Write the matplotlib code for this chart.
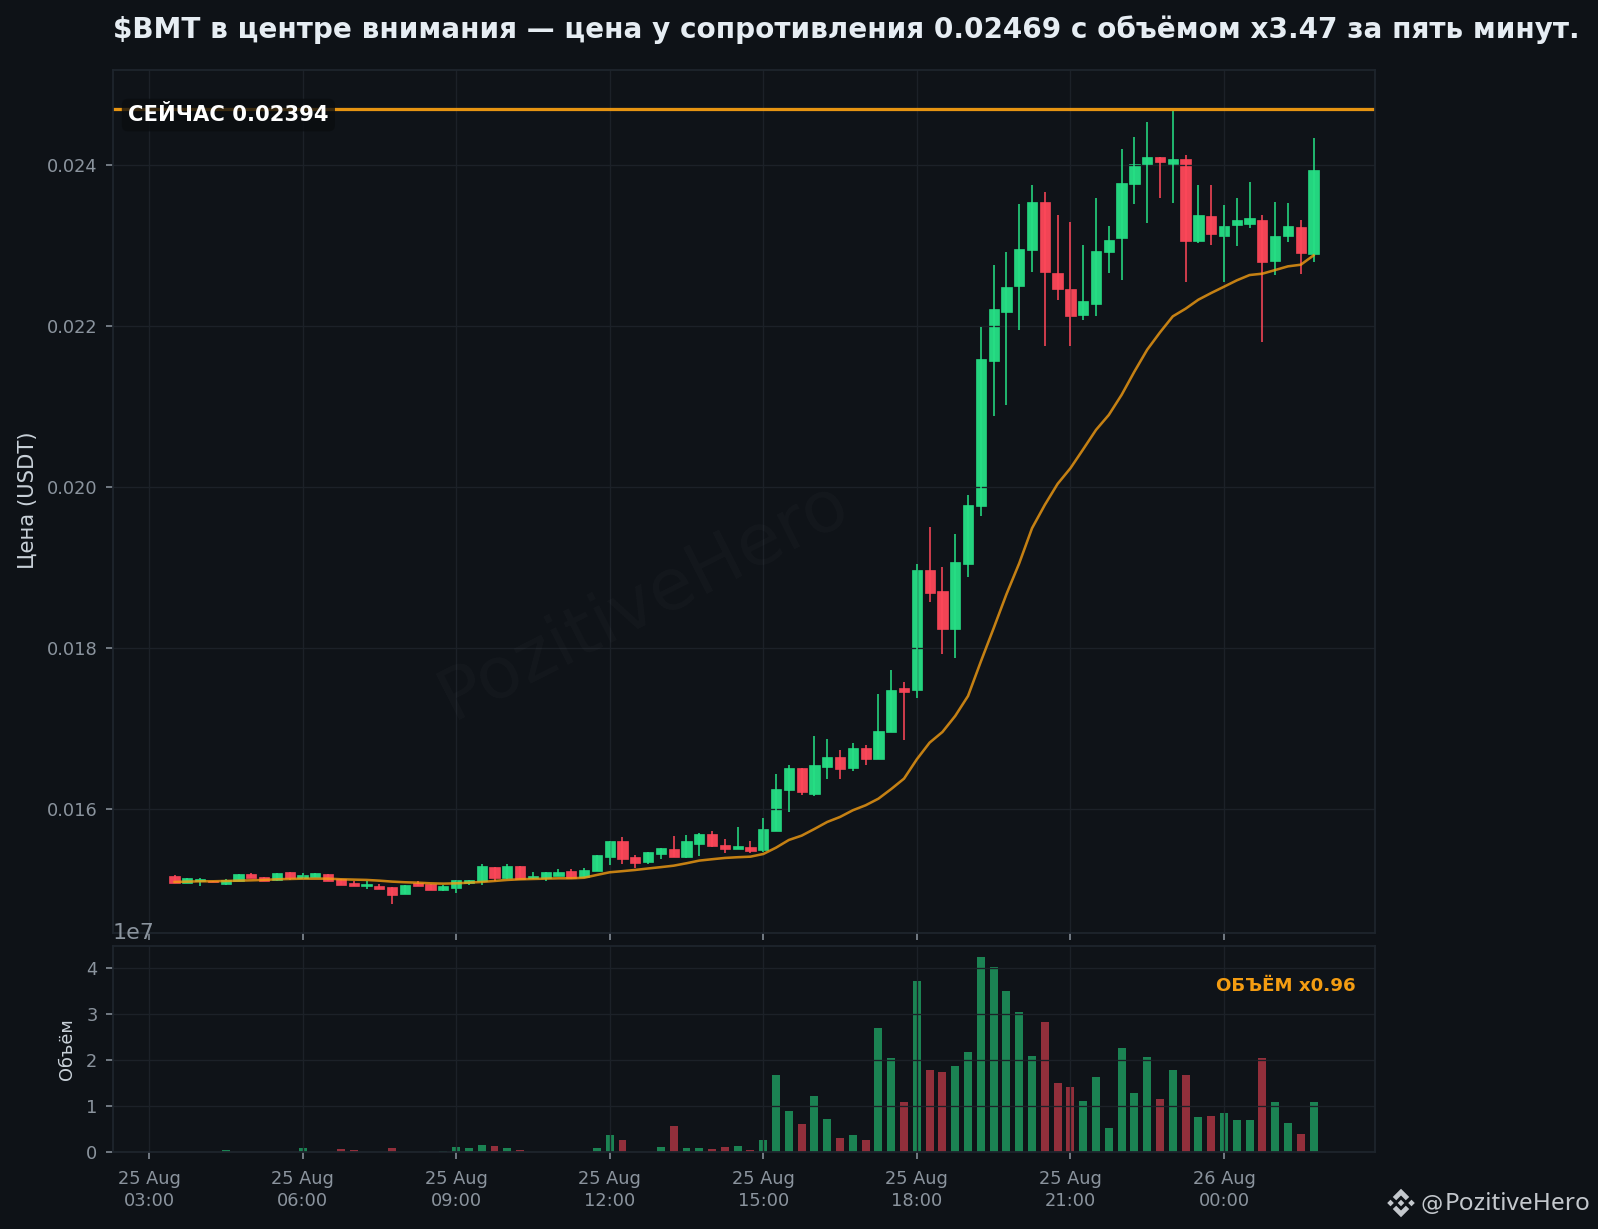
import numpy as np
import pandas as pd
import matplotlib
matplotlib.use('Agg')
import matplotlib.pyplot as plt
import matplotlib.dates as mdates
from matplotlib.patches import Polygon

# 15 minute candles, 25 Aug 03:30 -> 26 Aug 01:45
opens = [
    0.015172, 0.015089, 0.015106, 0.015114, 0.015077, 0.015110, 0.015193, 0.015156, 0.015123, 0.015218,
    0.015152, 0.015164, 0.015193, 0.015139, 0.015081, 0.015052, 0.015044, 0.015031, 0.014953, 0.015081,
    0.015073, 0.015002, 0.015027, 0.015081, 0.015106, 0.015280, 0.015152, 0.015292, 0.015147, 0.015147,
    0.015176, 0.015230, 0.015160, 0.015238, 0.015404, 0.015603, 0.015404, 0.015350, 0.015450, 0.015503,
    0.015412, 0.015574, 0.015690, 0.015553, 0.015512, 0.015528, 0.015495, 0.015735, 0.016236, 0.016509,
    0.016195, 0.016530, 0.016646, 0.016517, 0.016757, 0.016629, 0.016964, 0.017502, 0.017487, 0.018969,
    0.018708, 0.018236, 0.019051, 0.019771, 0.021572, 0.022180, 0.022493, 0.022940, 0.023541, 0.022659,
    0.022460, 0.022133, 0.022270, 0.022916, 0.023089, 0.023760, 0.024000, 0.024099, 0.024008, 0.024075,
    0.023052, 0.023367, 0.023114, 0.023251, 0.023263, 0.023317, 0.022804, 0.023114, 0.023230, 0.022891,
]
highs = [
    0.015185, 0.015143, 0.015143, 0.015114, 0.015135, 0.015193, 0.015209, 0.015156, 0.015205, 0.015218,
    0.015209, 0.015205, 0.015193, 0.015139, 0.015110, 0.015110, 0.015073, 0.015031, 0.015056, 0.015106,
    0.015073, 0.015056, 0.015123, 0.015118, 0.015321, 0.015280, 0.015321, 0.015292, 0.015222, 0.015218,
    0.015259, 0.015259, 0.015272, 0.015429, 0.015603, 0.015652, 0.015429, 0.015466, 0.015516, 0.015665,
    0.015677, 0.015702, 0.015727, 0.015627, 0.015776, 0.015603, 0.015888, 0.016435, 0.016546, 0.016509,
    0.016906, 0.016869, 0.016733, 0.016820, 0.016795, 0.017428, 0.017726, 0.017577, 0.019047, 0.019507,
    0.019010, 0.019420, 0.019904, 0.021990, 0.022760, 0.022920, 0.023516, 0.023756, 0.023669, 0.023379,
    0.023296, 0.023011, 0.023594, 0.023247, 0.024199, 0.024352, 0.024538, 0.024099, 0.024675, 0.024128,
    0.023756, 0.023756, 0.023503, 0.023594, 0.023793, 0.023379, 0.023545, 0.023532, 0.023321, 0.024339,
]
lows = [
    0.015089, 0.015081, 0.015048, 0.015098, 0.015060, 0.015106, 0.015152, 0.015106, 0.015110, 0.015127,
    0.015143, 0.015164, 0.015114, 0.015065, 0.015052, 0.015015, 0.015015, 0.014825, 0.014953, 0.015048,
    0.015002, 0.014990, 0.014961, 0.015060, 0.015060, 0.015110, 0.015131, 0.015135, 0.015131, 0.015110,
    0.015172, 0.015135, 0.015160, 0.015238, 0.015313, 0.015325, 0.015276, 0.015325, 0.015383, 0.015412,
    0.015400, 0.015425, 0.015536, 0.015462, 0.015512, 0.015462, 0.015474, 0.015735, 0.015971, 0.016182,
    0.016170, 0.016381, 0.016381, 0.016480, 0.016555, 0.016629, 0.016964, 0.016865, 0.017387, 0.018575,
    0.017930, 0.017880, 0.018890, 0.019643, 0.020889, 0.021026, 0.021953, 0.022676, 0.021757, 0.022328,
    0.021757, 0.022080, 0.022129, 0.022663, 0.022576, 0.023520, 0.023284, 0.023594, 0.023532, 0.022551,
    0.023036, 0.023011, 0.022551, 0.022998, 0.023222, 0.021806, 0.022638, 0.023048, 0.022651, 0.022800,
]
closes = [
    0.015089, 0.015143, 0.015131, 0.015098, 0.015123, 0.015193, 0.015152, 0.015106, 0.015205, 0.015152,
    0.015180, 0.015205, 0.015114, 0.015065, 0.015052, 0.015069, 0.015015, 0.014940, 0.015056, 0.015052,
    0.015002, 0.015044, 0.015118, 0.015118, 0.015292, 0.015152, 0.015292, 0.015135, 0.015172, 0.015218,
    0.015218, 0.015147, 0.015243, 0.015429, 0.015603, 0.015387, 0.015338, 0.015466, 0.015516, 0.015412,
    0.015603, 0.015690, 0.015549, 0.015512, 0.015541, 0.015487, 0.015752, 0.016248, 0.016509, 0.016219,
    0.016546, 0.016646, 0.016505, 0.016757, 0.016621, 0.016969, 0.017478, 0.017461, 0.018969, 0.018691,
    0.018244, 0.019068, 0.019776, 0.021589, 0.022209, 0.022483, 0.022957, 0.023541, 0.022667, 0.022456,
    0.022121, 0.022311, 0.022932, 0.023069, 0.023776, 0.024012, 0.024099, 0.024033, 0.024075, 0.023052,
    0.023379, 0.023139, 0.023243, 0.023317, 0.023342, 0.022791, 0.023118, 0.023243, 0.022903, 0.023940,
]
ema = [
    0.015098, 0.015102, 0.015106, 0.015106, 0.015110, 0.015114, 0.015118, 0.015123, 0.015131, 0.015135,
    0.015139, 0.015139, 0.015139, 0.015131, 0.015127, 0.015123, 0.015114, 0.015102, 0.015094, 0.015089,
    0.015081, 0.015077, 0.015081, 0.015089, 0.015098, 0.015110, 0.015123, 0.015131, 0.015135, 0.015139,
    0.015143, 0.015143, 0.015150, 0.015185, 0.015218, 0.015232, 0.015247, 0.015265, 0.015282, 0.015300,
    0.015330, 0.015363, 0.015380, 0.015396, 0.015405, 0.015412, 0.015445, 0.015524, 0.015619, 0.015673,
    0.015756, 0.015843, 0.015905, 0.015988, 0.016050, 0.016132, 0.016252, 0.016381, 0.016621, 0.016828,
    0.016960, 0.017159, 0.017407, 0.017834, 0.018248, 0.018670, 0.019055, 0.019490, 0.019780, 0.020041,
    0.020235, 0.020471, 0.020711, 0.020897, 0.021146, 0.021435, 0.021707, 0.021922, 0.022121, 0.022216,
    0.022328, 0.022411, 0.022489, 0.022568, 0.022634, 0.022651, 0.022696, 0.022742, 0.022762, 0.022878,
]
# volume in units of 1e7
volume = [
    0.005, 0.005, 0.005, 0.005, 0.04, 0.005, 0.005, 0.005, 0.005, 0.005,
    0.08, 0.005, 0.005, 0.06, 0.04, 0.005, 0.005, 0.08, 0.005, 0.005,
    0.005, 0.03, 0.10, 0.08, 0.15, 0.12, 0.08, 0.04, 0.005, 0.005,
    0.005, 0.005, 0.005, 0.08, 0.36, 0.25, 0.005, 0.005, 0.10, 0.56,
    0.08, 0.08, 0.06, 0.10, 0.12, 0.04, 0.27, 1.68, 0.90, 0.60,
    1.21, 0.71, 0.30, 0.36, 0.25, 2.68, 2.03, 1.08, 3.70, 1.79,
    1.73, 1.86, 2.16, 4.24, 4.02, 3.50, 3.03, 2.09, 2.83, 1.49,
    1.42, 1.10, 1.62, 0.51, 2.25, 1.29, 2.07, 1.14, 1.77, 1.68,
    0.75, 0.79, 0.84, 0.69, 0.69, 2.03, 1.08, 0.64, 0.40, 1.08,
]
resistance = 0.02469
y_ticks = [0.016, 0.018, 0.020, 0.022, 0.024]

BG = '#0e1217'
PANEL = '#0f1318'
GRID = '#1c2128'
SPINE = '#1e252d'
TICK = '#8b949e'
GREEN = '#26e085'
RED = '#ff4759'
ORANGE = '#f39c12'

W, H = 1598, 1229
fig = plt.figure(figsize=(W / 160, H / 160), dpi=160, facecolor=BG)
plt.rcParams['font.family'] = 'DejaVu Sans'


def px_axes(left, top, right, bottom, **kw):
    return fig.add_axes([left / W, 1 - bottom / H, (right - left) / W, (bottom - top) / H], **kw)


ax = px_axes(113, 70, 1375, 933)
ax_vol = px_axes(113, 946, 1375, 1152, sharex=ax)

times = pd.date_range('2025-08-25 03:30', periods=len(opens), freq='15min')
x = mdates.date2num(times)
step = 15 / 1440

o = np.array(opens)
c = np.array(closes)
up = c >= o
colors = [GREEN if u else RED for u in up]

ax.vlines(x, lows, highs, colors=colors, lw=0.7)
ax.bar(x, np.abs(c - o), bottom=np.minimum(o, c), width=step * 0.8, color=colors,
       edgecolor=colors, linewidth=0.3, alpha=0.95)
ax.plot(x, ema, color=ORANGE, lw=1.15, alpha=0.8)
ax.axhline(resistance, color=ORANGE, lw=1.45, alpha=0.95)

ax_vol.bar(x, np.array(volume) * 1e7, width=step * 0.62, color=colors, alpha=0.55)

start = mdates.date2num(pd.Timestamp('2025-08-25 03:00'))
ax.set_xlim(start - 2.81 * step, start + 95.8 * step)
ax.set_ylim(0.014464, 0.02518)
ax.set_yticks(y_ticks)
ax_vol.set_ylim(0, 4.47e7)
ax_vol.set_yticks([0, 1e7, 2e7, 3e7, 4e7])

ax_vol.xaxis.set_major_locator(mdates.HourLocator(byhour=range(0, 24, 3)))
ax_vol.xaxis.set_major_formatter(mdates.DateFormatter('%d %b\n%H:%M'))

for a in (ax, ax_vol):
    a.set_facecolor(PANEL)
    a.grid(True, color=GRID, lw=0.6)
    a.tick_params(colors=TICK, labelsize=8, length=3, width=0.7, pad=4)
    for s in a.spines.values():
        s.set_color(SPINE)
        s.set_linewidth(0.8)
ax.tick_params(axis='x', labelbottom=False)
ax_vol.tick_params(axis='x', pad=5)
fig.canvas.draw()
for lab in ax_vol.get_xticklabels():
    lab.set_linespacing(1.3)
ax_vol.yaxis.get_offset_text().set_color(TICK)
ax_vol.yaxis.get_offset_text().set_fontsize(10)

ax.set_ylabel('Цена (USDT)', color='#c9d1d9', fontsize=9.5)
ax.yaxis.set_label_coords((38 - 113) / 1262, (933 - 500) / 863)
ax_vol.set_ylabel('Объём', color='#c9d1d9', fontsize=8)
ax_vol.yaxis.set_label_coords((76 - 113) / 1262, (1152 - 1049) / 206)

ax.text(0.012, 0.9478, 'СЕЙЧАС 0.02394', transform=ax.transAxes, color='white', fontsize=9.5,
        fontweight='bold', va='center', ha='left', zorder=6,
        bbox=dict(boxstyle='round,pad=0.3', facecolor='#0a0d10', edgecolor='none', alpha=0.78))
ax_vol.text(0.9845, 0.805, 'ОБЪЁМ x0.96', transform=ax_vol.transAxes, color=ORANGE, fontsize=8.2,
            fontweight='bold', va='center', ha='right')

# watermark
fig.text(644 / W, 1 - 601 / H, 'PozitiveHero', color='white', alpha=0.025, fontsize=32.5,
         rotation=27, ha='center', va='center')

fig.text(113 / W, 1 - 29.5 / H,
         '$BMT в центре внимания — цена у сопротивления 0.02469 с объёмом x3.47 за пять минут.',
         color='#e6edf3', fontsize=12.56, fontweight='bold', ha='left', va='center', parse_math=False)

# brand mark bottom right
ax_logo = px_axes(1386, 1188, 1416, 1218)
ax_logo.set_xlim(-1, 1)
ax_logo.set_ylim(-1, 1)
ax_logo.axis('off')
logo = '#c4c8cd'
for pts in (
    [(0, 0.22), (0.22, 0), (0, -0.22), (-0.22, 0)],
    [(-0.92, 0), (-0.7, 0.22), (-0.48, 0), (-0.7, -0.22)],
    [(0.92, 0), (0.7, 0.22), (0.48, 0), (0.7, -0.22)],
    [(0, 0.95), (0.55, 0.4), (0.32, 0.18), (0, 0.5), (-0.32, 0.18), (-0.55, 0.4)],
    [(0, -0.95), (0.55, -0.4), (0.32, -0.18), (0, -0.5), (-0.32, -0.18), (-0.55, -0.4)],
):
    ax_logo.add_patch(Polygon(pts, closed=True, facecolor=logo, edgecolor='none'))
fig.text(1420 / W, 1 - 1204 / H, '@', color=logo, fontsize=10, ha='left', va='center')
fig.text(1445 / W, 1 - 1204 / H, 'PozitiveHero', color=logo, fontsize=11, family='Noto Sans',
         ha='left', va='center')

fig.savefig('out.png', dpi=160, facecolor=BG)
